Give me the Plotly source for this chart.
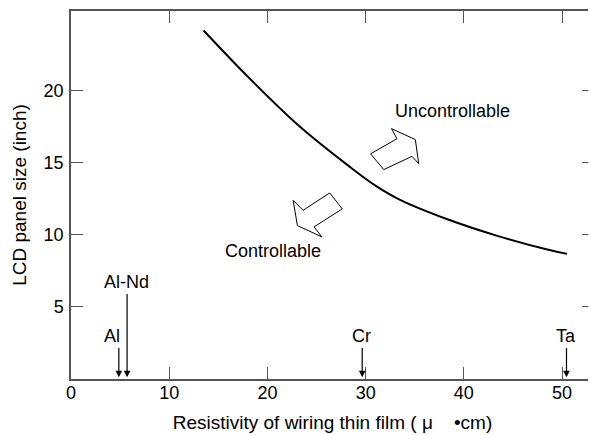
import plotly.graph_objects as go

# Curve: boundary between controllable and uncontrollable regions
curve_x = [13.5, 18.15, 23.2, 28.3, 31.0, 33.4, 38.4, 43.5, 48.6, 50.5]
curve_y = [24.15, 20.85, 17.55, 14.75, 13.4, 12.45, 11.05, 9.9, 8.95, 8.67]

# Materials and their resistivity markers
materials = ["Al", "Al-Nd", "Cr", "Ta"]
mat_x = [4.87, 5.71, 29.65, 50.45]
arrow_top = [2.25, 6.0, 2.25, 2.25]
label_y = [2.95, 6.7, 2.95, 2.95]
label_x = [4.15, 5.7, 29.55, 50.4]

# Block arrows (outline polygons, data units)
up_arrow_x = [30.50, 31.85, 34.72, 35.40, 35.06, 32.63, 33.19]
up_arrow_y = [15.60, 14.51, 15.43, 14.92, 16.59, 17.35, 16.65]
dn_arrow_x = [26.34, 27.62, 24.75, 25.53, 23.05, 22.62, 23.63]
dn_arrow_y = [12.89, 11.79, 10.54, 9.85, 10.63, 12.38, 11.69]

region_labels = ["Uncontrollable", "Controllable"]
region_x = [38.8, 20.6]
region_y = [18.6, 8.85]

x_ticks = [0, 10, 20, 30, 40, 50]
y_ticks = [5, 10, 15, 20]

FONT = "Liberation Sans, Arial, sans-serif"
FS = 18
TS = 19
AX = "#555555"

fig = go.Figure()
fig.add_trace(go.Scatter(x=curve_x, y=curve_y, mode="lines",
                         line=dict(color="black", width=2, shape="spline", smoothing=1.0),
                         hoverinfo="skip", showlegend=False))

def poly_path(xs, ys):
    p = "M %f,%f " % (xs[0], ys[0])
    for a, b in zip(xs[1:], ys[1:]):
        p += "L %f,%f " % (a, b)
    return p + "Z"

for xs, ys in [(up_arrow_x, up_arrow_y), (dn_arrow_x, dn_arrow_y)]:
    fig.add_shape(type="path", path=poly_path(xs, ys), xref="x", yref="y",
                  line=dict(color="black", width=1), fillcolor="white")

annotations = []
for name, mx, top, lx, ly in zip(materials, mat_x, arrow_top, label_x, label_y):
    annotations.append(dict(x=mx, y=0.12, ax=mx, ay=top, xref="x", yref="y",
                            axref="x", ayref="y", text="", showarrow=True,
                            arrowhead=2, arrowsize=1.1, arrowwidth=1.2, arrowcolor="black"))
    annotations.append(dict(x=lx, y=ly, xref="x", yref="y", text=name, showarrow=False,
                            font=dict(family=FONT, size=FS, color="black")))
for t, rx, ry in zip(region_labels, region_x, region_y):
    annotations.append(dict(x=rx, y=ry, xref="x", yref="y", text=t, showarrow=False,
                            font=dict(family=FONT, size=FS, color="black")))

fig.update_layout(
    width=588, height=427,
    margin=dict(l=63, r=0, t=3, b=56),
    paper_bgcolor="white", plot_bgcolor="white",
    font=dict(family=FONT, size=FS, color="black"),
    annotations=annotations,
    xaxis=dict(range=[0, 53.25], tickvals=x_ticks, ticks="inside", ticklen=12,
               tickwidth=1.2, tickcolor=AX, showline=True, linecolor=AX, linewidth=1.5,
               mirror="ticks", showgrid=False, zeroline=False, ticklabelstandoff=-3,
               title=dict(text="Resistivity of wiring thin film ( μ    •cm)", standoff=13,
                          font=dict(size=TS)),
               tickfont=dict(size=FS)),
    yaxis=dict(range=[0, 25.5], tickvals=y_ticks, ticks="inside", ticklen=12,
               tickwidth=1.2, tickcolor=AX, showline=True, linecolor=AX, linewidth=1.5,
               mirror="ticks", showgrid=False, zeroline=False, ticklabelstandoff=2,
               title=dict(text="LCD panel size (inch)", standoff=12, font=dict(size=TS)),
               tickfont=dict(size=FS)),
)
fig.write_html("out.html")
